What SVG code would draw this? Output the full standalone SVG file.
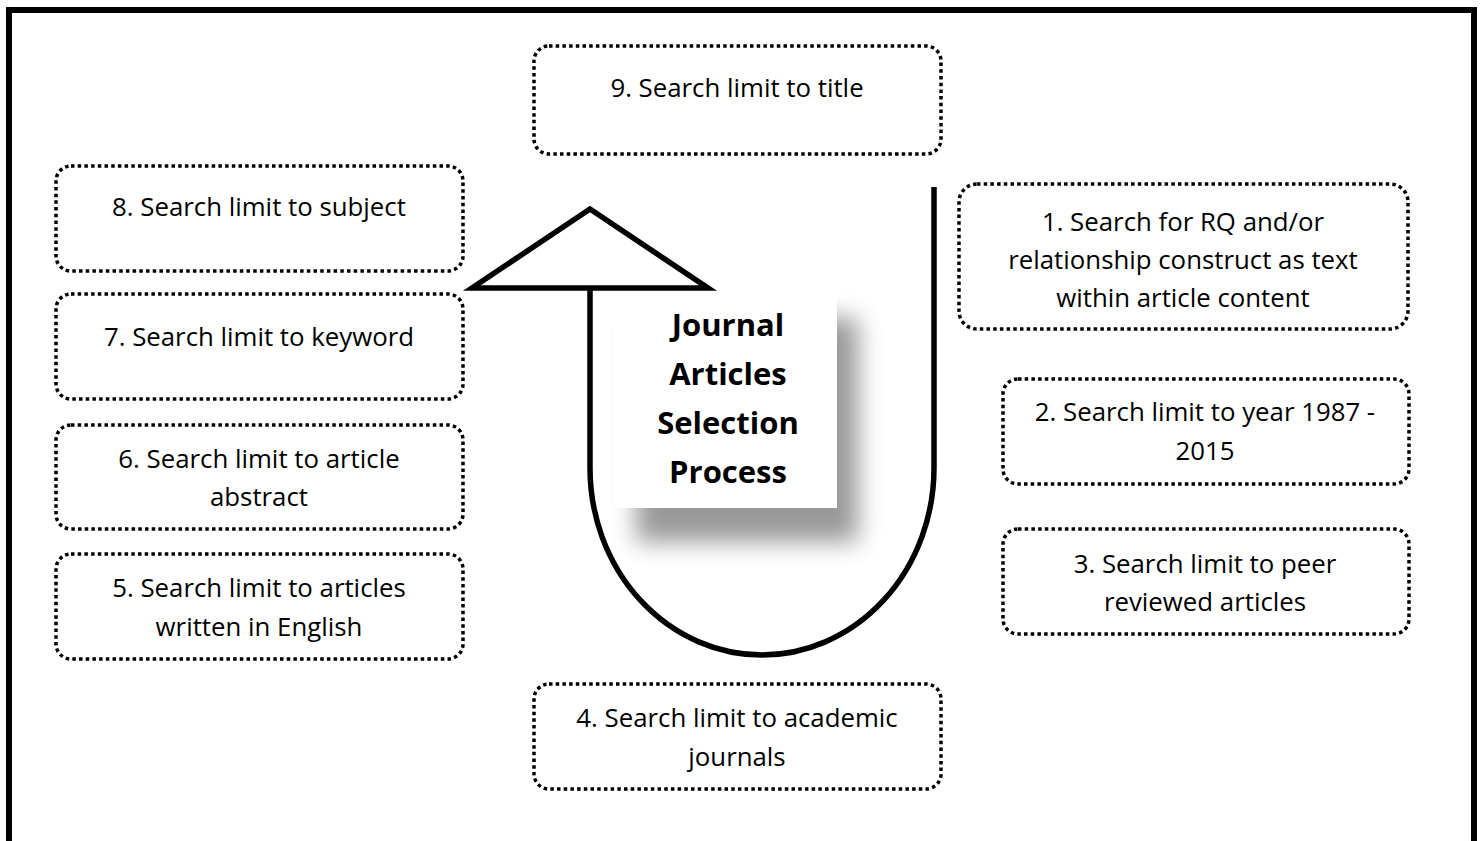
<svg xmlns="http://www.w3.org/2000/svg" width="1481" height="841" viewBox="0 0 1481 841">
<defs>
<style>
.box{fill:#fff;stroke:#000;stroke-width:3.5;stroke-dasharray:3.5 3.2}
.lbl{font-family:"Open Sans","Liberation Sans",sans-serif;font-size:25.8px;fill:#000;text-anchor:middle}
.title{font-family:"Open Sans","Liberation Sans",sans-serif;font-weight:bold;font-size:31px;fill:#000;text-anchor:middle}
.stroke{fill:none;stroke:#000;stroke-width:5.5}
</style>
<filter id="shadow" x="-40%" y="-40%" width="180%" height="180%">
<feGaussianBlur stdDeviation="12"/>
</filter>
</defs>
<rect width="1481" height="841" fill="#fff"/>
<path d="M9 845 V10 H1474 V845" fill="none" stroke="#000" stroke-width="6"/>

<g id="connectors">
<path class="stroke" d="M590 290 V468 A172 187 0 0 0 934 468 V187"/>
<polygon class="stroke" points="590,209 472,288 708,288" fill="#fff"/>
</g>

<g id="center">
<rect x="636" y="318" width="222" height="224" fill="#000" opacity="0.4" filter="url(#shadow)"/>
<rect x="614" y="292" width="223" height="216" fill="#fff"/>
<text class="title" x="728" y="336">Journal</text>
<text class="title" x="728" y="385">Articles</text>
<text class="title" x="728" y="434">Selection</text>
<text class="title" x="728" y="483">Process</text>
</g>

<g id="n9"><rect class="box" x="534" y="46" width="407" height="108" rx="15"/><text class="lbl" x="737" y="97">9. Search limit to title</text></g>
<g id="n8"><rect class="box" x="56" y="166" width="407" height="105" rx="15"/><text class="lbl" x="259" y="216">8. Search limit to subject</text></g>
<g id="n7"><rect class="box" x="56" y="294" width="407" height="105" rx="15"/><text class="lbl" x="259" y="346">7. Search limit to keyword</text></g>
<g id="n6"><rect class="box" x="56" y="425" width="407" height="104" rx="15"/><text class="lbl" x="259" y="468">6. Search limit to article</text><text class="lbl" x="259" y="506">abstract</text></g>
<g id="n5"><rect class="box" x="56" y="554" width="407" height="105" rx="15"/><text class="lbl" x="259" y="597">5. Search limit to articles</text><text class="lbl" x="259" y="636">written in English</text></g>
<g id="n1"><rect class="box" x="959" y="184" width="449" height="145" rx="18"/><text class="lbl" x="1183" y="231">1. Search for RQ and/or</text><text class="lbl" x="1183" y="269">relationship construct as text</text><text class="lbl" x="1183" y="307">within article content</text></g>
<g id="n2"><rect class="box" x="1003" y="379" width="406" height="105" rx="15"/><text class="lbl" x="1205" y="421">2. Search limit to year 1987 -</text><text class="lbl" x="1205" y="460">2015</text></g>
<g id="n3"><rect class="box" x="1003" y="529" width="406" height="105" rx="15"/><text class="lbl" x="1205" y="573">3. Search limit to peer</text><text class="lbl" x="1205" y="611">reviewed articles</text></g>
<g id="n4"><rect class="box" x="534" y="684" width="407" height="105" rx="15"/><text class="lbl" x="737" y="727">4. Search limit to academic</text><text class="lbl" x="737" y="766">journals</text></g>
</svg>
